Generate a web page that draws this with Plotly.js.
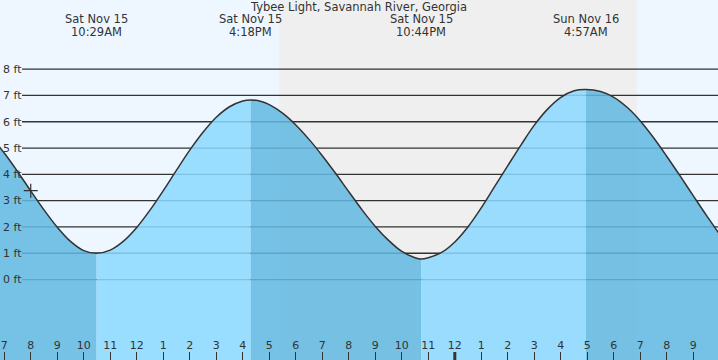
<!DOCTYPE html>
<html><head><meta charset="utf-8">
<script src="https://cdn.plot.ly/plotly-3.0.1.min.js"></script>
<style>html,body{margin:0;padding:0;background:#fff}#chart{width:718px;height:360px}</style>
</head><body><div id="chart"></div>
<script>
const chartTitle = "Tybee Light, Savannah River, Georgia";
// time in hours since 00:00 Sat Nov 15, level in feet
const readTimes  = [6.5, 7, 7.5, 8, 8.5, 9, 9.5, 10, 10.483, 11, 11.5, 12, 12.5, 13, 13.5, 14, 14.5, 15, 15.5, 16, 16.3, 16.7, 17, 17.5, 18, 18.5, 19, 19.5, 20, 20.5, 21, 21.5, 22, 22.5, 22.733, 23, 23.5, 24, 24.5, 25, 25.5, 26, 26.5, 27, 27.5, 28, 28.5, 28.95, 29.5, 30, 30.5, 31, 31.5, 32, 32.5, 33, 33.5, 34];
const readLevels = [5.43, 4.81, 4.11, 3.37, 2.65, 1.99, 1.45, 1.10, 1.0, 1.12, 1.46, 1.98, 2.64, 3.38, 4.16, 4.92, 5.60, 6.17, 6.57, 6.79, 6.83, 6.77, 6.65, 6.33, 5.88, 5.33, 4.71, 4.04, 3.34, 2.65, 2.02, 1.49, 1.07, 0.83, 0.78, 0.83, 1.03, 1.43, 2.01, 2.73, 3.53, 4.33, 5.12, 5.87, 6.48, 6.93, 7.18, 7.23, 7.15, 6.93, 6.55, 6.03, 5.39, 4.68, 3.94, 3.18, 2.43, 1.71];
const extremeTimes  = [10.483, 16.3, 22.733, 28.95];
const extremeDates  = ["Sat Nov 15", "Sat Nov 15", "Sat Nov 15", "Sun Nov 16"];
const extremeClock  = ["10:29AM", "4:18PM", "10:44PM", "4:57AM"];
const sunsetTime = [17.37];
const sunriseTime = [30.87];
const nowTime  = [8.0];
const nowLevel = [3.38];
const hourTicks  = [7,8,9,10,11,12,13,14,15,16,17,18,19,20,21,22,23,24,25,26,27,28,29,30,31,32,33];
const hourLabels = ["7","8","9","10","11","12","1","2","3","4","5","6","7","8","9","10","11","12","1","2","3","4","5","6","7","8","9"];
const levelTicks  = [0,1,2,3,4,5,6,7,8];
const levelLabels = ["0 ft","1 ft","2 ft","3 ft","4 ft","5 ft","6 ft","7 ft","8 ft"];
const dayBoundary = [24];

const xRange = [6.84, 33.93];
const yRange = [-3.06, 10.63];
const FONT = "DejaVu Sans";
const TXT = "#333333";
const LIGHT = "rgba(138,216,255,0.86)";
const DARK = "rgba(98,184,226,0.86)";

const traces = [];
// split into rising / falling segments at the extremes
const bounds = [0];
extremeTimes.forEach(t => { const i = readTimes.indexOf(t); if (i > 0) bounds.push(i); });
bounds.push(readTimes.length - 1);
for (let k = 0; k < bounds.length - 1; k++) {
  const a = bounds[k], b = bounds[k + 1];
  const xs = readTimes.slice(a, b + 1);
  const ys = readLevels.slice(a, b + 1);
  const rising = ys[ys.length - 1] > ys[0];
  traces.push({x: xs, y: xs.map(() => yRange[0]), type: "scatter", mode: "lines",
    line: {width: 0}, hoverinfo: "skip", showlegend: false});
  traces.push({x: xs, y: ys, type: "scatter", mode: "lines", fill: "tonexty",
    fillcolor: rising ? LIGHT : DARK, line: {width: 0, shape: "spline", smoothing: 1},
    hoverinfo: "skip", showlegend: false});
}
traces.push({x: readTimes, y: readLevels, type: "scatter", mode: "lines",
  line: {color: "#333", width: 1.5, shape: "spline", smoothing: 1}, showlegend: false});
traces.push({x: nowTime, y: nowLevel, type: "scatter", mode: "markers",
  marker: {symbol: "cross-thin-open", size: 10, color: "#333", line: {color: "#333", width: 1.2}}, showlegend: false});

const shapes = [];
shapes.push({type: "rect", xref: "x", yref: "paper", x0: sunsetTime[0], x1: sunriseTime[0], y0: 0, y1: 1,
  fillcolor: "#efefef", line: {width: 0}, layer: "below"});
levelTicks.forEach(v => shapes.push({type: "line", xref: "paper", yref: "y", x0: 22/718, x1: 1, y0: v, y1: v,
  line: {color: "#333", width: 1.3}, layer: "below"}));
dayBoundary.forEach(t => shapes.push({type: "line", xref: "x", yref: "paper", x0: t, x1: t, y0: 0, y1: 8/360,
  line: {color: "#333", width: 3}, layer: "above"}));

const annotations = [];
extremeTimes.forEach((t, i) => {
  annotations.push({x: t, y: 1 - 19/360, xref: "x", yref: "paper", text: extremeDates[i], showarrow: false,
    xanchor: "center", yanchor: "middle", font: {family: FONT, size: 11.5, color: TXT}});
  annotations.push({x: t, y: 1 - 32/360, xref: "x", yref: "paper", text: extremeClock[i], showarrow: false,
    xanchor: "center", yanchor: "middle", font: {family: FONT, size: 11.5, color: TXT}});
});

const layout = {
  width: 718, height: 360,
  margin: {l: 0, r: 0, t: 0, b: 0, pad: 0},
  paper_bgcolor: "#eef7ff", plot_bgcolor: "#eef7ff",
  showlegend: false,
  title: {text: chartTitle, x: 0.5, xanchor: "center", y: 1 - 7/360, yanchor: "middle", yref: "container",
    font: {family: FONT, size: 11.5, color: TXT}},
  xaxis: {range: xRange, showgrid: false, zeroline: false, showline: false,
    tickmode: "array", tickvals: hourTicks, ticktext: hourLabels,
    ticks: "inside", ticklen: 8, tickwidth: 1, tickcolor: "#333",
    ticklabelposition: "inside", ticklabeloverflow: "allow",
    tickfont: {family: FONT, size: 11, color: TXT}, fixedrange: true},
  yaxis: {range: yRange, showgrid: false, zeroline: false, showline: false,
    tickmode: "array", tickvals: levelTicks, ticktext: levelLabels,
    ticks: "", ticklabelposition: "inside", ticklabeloverflow: "allow",
    tickfont: {family: FONT, size: 11, color: TXT}, fixedrange: true},
  shapes: shapes,
  annotations: annotations
};
Plotly.newPlot("chart", traces, layout, {staticPlot: true, displayModeBar: false});
</script></body></html>
